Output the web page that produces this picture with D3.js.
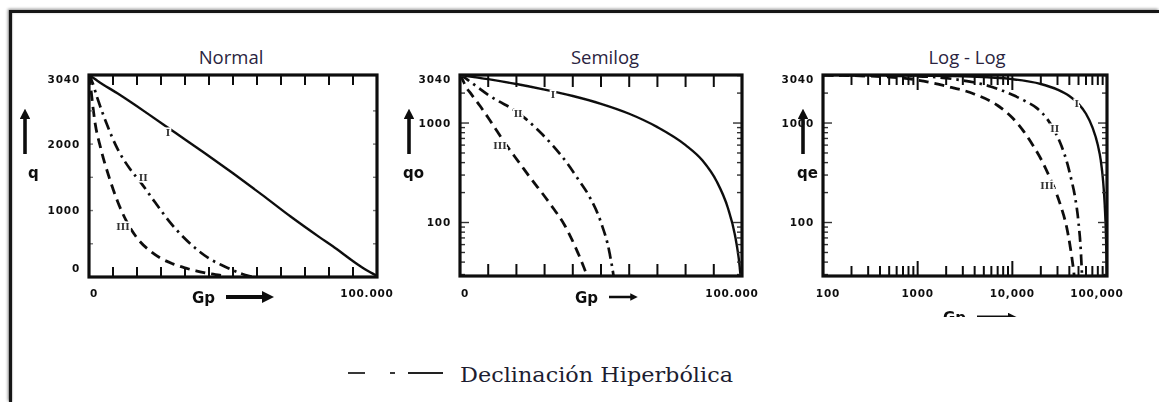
<!DOCTYPE html>
<html>
<head>
<meta charset="utf-8">
<script src="https://cdn.jsdelivr.net/npm/d3@7"></script>
<style>
  body { margin: 0; background: #fff; }
  svg { display: block; }
</style>
</head>
<body>
<div id="chart"></div>
<script>
// panel titles
var titles = ["Normal", "Semilog", "Log - Log"];

// curve I (solid), q vs Gp
var gpI = [0, 100, 1000, 3000, 10000, 20000, 30000, 40000, 50000, 60000, 70000, 80000, 86000, 91000, 95000, 97500, 99000, 100000];
var qI  = [3040, 3037, 3010, 2950, 2760, 2470, 2170, 1870, 1560, 1240, 910, 600, 420, 260, 140, 75, 40, 20];

// curve II (dash-dot)
var gpII = [0, 100, 1000, 3000, 6000, 10000, 14000, 18000, 23000, 28000, 33000, 38000, 42000, 46000, 50000, 53000, 55000, 56500];
var qII  = [3040, 3035, 2950, 2680, 2320, 1920, 1640, 1420, 1120, 830, 590, 395, 270, 180, 100, 50, 22, 8];

// curve III (dashed)
var gpIII = [0, 100, 500, 1000, 2000, 4000, 7000, 10000, 13000, 17000, 21000, 25000, 29000, 33000, 37000, 41000, 44000, 47000];
var qIII  = [3040, 3030, 2900, 2700, 2350, 1950, 1500, 1130, 840, 570, 400, 280, 200, 140, 95, 56, 35, 20];

var curveNames = ["I", "II", "III"];

// tick labels
var linYTicks  = [0, 1000, 2000, 3040];
var linYLabels = ["0", "1000", "2000", "3040"];
var logYTicks  = [100, 1000, 3040];
var logYLabels = ["100", "1000", "3040"];
var linXTicks  = [0, 100000];
var linXLabels = ["0", "100.000"];
var logXTicks  = [100, 1000, 10000, 100000];
var logXLabels = ["100", "1000", "10,000", "100,000"];

// where the I / II / III marks sit on each panel (Gp, q)
var markGpNormal  = [27400, 18800, 11800];
var markQNormal   = [2170, 1490, 750];
var markGpSemilog = [33000, 20600, 14200];
var markQSemilog  = [1950, 1230, 590];
var markGpLogLog  = [47900, 28000, 23200];
var markQLogLog   = [1550, 870, 234];

var legendText = "Declinación Hiperbólica";

(function() {
	var WIDTH = 1159, HEIGHT = 402;
	var INK = "#111";

	var svg = d3.select("#chart").append("svg")
		.attr("width", WIDTH)
		.attr("height", HEIGHT);

	var defs = svg.append("defs");

	// soft edge, the panels are scans
	defs.append("filter").attr("id", "scan")
		.attr("x", "-5%").attr("y", "-5%").attr("width", "110%").attr("height", "110%")
		.append("feGaussianBlur").attr("stdDeviation", 0.55);

	var shadow = defs.append("filter").attr("id", "shadow")
		.attr("x", "-10%").attr("y", "-10%").attr("width", "120%").attr("height", "120%");
	shadow.append("feGaussianBlur").attr("in", "SourceAlpha").attr("stdDeviation", 1.6).attr("result", "b");
	shadow.append("feOffset").attr("in", "b").attr("dx", -1.5).attr("dy", -1.5).attr("result", "o");
	shadow.append("feComponentTransfer").attr("in", "o").attr("result", "s")
		.append("feFuncA").attr("type", "linear").attr("slope", 0.45);
	var merge = shadow.append("feMerge");
	merge.append("feMergeNode").attr("in", "s");
	merge.append("feMergeNode").attr("in", "SourceGraphic");

	defs.append("marker").attr("id", "arrowHead")
		.attr("viewBox", "0 0 10 10").attr("refX", 5).attr("refY", 5)
		.attr("markerWidth", 3).attr("markerHeight", 3)
		.attr("orient", "auto")
		.append("path").attr("d", "M0,0L10,5L0,10Z").attr("fill", INK);

	// outer frame (top and left only, the rest is cut off)
	svg.append("path")
		.attr("d", "M10.5," + HEIGHT + "V11.5H" + WIDTH)
		.attr("fill", "none")
		.attr("stroke", "#151515")
		.attr("stroke-width", 3.2)
		.attr("filter", "url(#shadow)");

	function zipPts(gp, q) {
		return gp.map(function(g, i) { return [g, q[i]]; });
	}

	var series = [
		{ pts: zipPts(gpI, qI),     dash: null,            width: 2.4 },
		{ pts: zipPts(gpII, qII),   dash: "11,5,2.5,5",    width: 2.7 },
		{ pts: zipPts(gpIII, qIII), dash: "10,6",          width: 2.8 }
	];

	function logMinor(lo, hi) {
		var out = [];
		for (var e = Math.floor(Math.log10(lo)); e <= Math.ceil(Math.log10(hi)); e++) {
			for (var m = 1; m <= 9; m++) {
				var v = m * Math.pow(10, e);
				if (v > lo && v < hi) out.push(v);
			}
		}
		return out;
	}

	function isDecade(v) {
		var l = Math.log10(v);
		return Math.abs(l - Math.round(l)) < 1e-9;
	}

	var panels = [
		{
			title: titles[0], titleX: 231,
			x: d3.scaleLinear().domain([0, 100000]).range([89, 377]),
			y: d3.scaleLinear().domain([0, 3040]).range([277, 75]),
			xTicks: d3.range(1, 12).map(function(i) { return i * 100000 / 12; }),
			xTickLen: function() { return 10; },
			yTicks: [500, 1000, 1500, 2000, 2500],
			yTickLen: function() { return 4; }, yTickColor: "#777",
			xLabelVals: linXTicks, xLabels: linXLabels,
			yLabelVals: linYTicks, yLabels: linYLabels,
			markGp: markGpNormal, markQ: markQNormal,
			yName: "q", yNameX: 28, yArrowX: 25,
			xNameX: 192, xArrowEnd: 274, arrowW: 4, clipBottom: null
		},
		{
			title: titles[1], titleX: 605,
			x: d3.scaleLinear().domain([0, 100000]).range([460, 742]),
			y: d3.scaleLog().domain([29, 3040]).range([276, 75]),
			xTicks: d3.range(1, 10).map(function(i) { return i * 10000; }),
			xTickLen: function() { return 12; },
			yTicks: logMinor(29, 3040),
			yTickLen: function(v) { return isDecade(v) ? 9 : 5; }, yTickColor: "#333",
			xLabelVals: linXTicks, xLabels: linXLabels,
			yLabelVals: logYTicks, yLabels: logYLabels,
			markGp: markGpSemilog, markQ: markQSemilog,
			yName: "qo", yNameX: 403, yArrowX: 409,
			xNameX: 575, xArrowEnd: 640, arrowW: 2.5, clipBottom: null
		},
		{
			title: titles[2], titleX: 967,
			x: d3.scaleLog().domain([100, 100000]).range([823, 1107]),
			y: d3.scaleLog().domain([29, 3040]).range([276, 75]),
			xTicks: logMinor(100, 100000),
			xTickLen: function(v) { return isDecade(v) ? 15 : 10; },
			yTicks: logMinor(29, 3040),
			yTickLen: function(v) { return isDecade(v) ? 9 : 5; }, yTickColor: "#333",
			xLabelVals: logXTicks, xLabels: logXLabels,
			yLabelVals: logYTicks, yLabels: logYLabels,
			markGp: markGpLogLog, markQ: markQLogLog,
			yName: "qe", yNameX: 797, yArrowX: 803,
			xNameX: 943, xArrowEnd: 1018, arrowW: 3, clipBottom: 317
		}
	];

	function drawPanel(p, idx) {
		var x0 = p.x.range()[0], x1 = p.x.range()[1];
		var yb = p.y.range()[0], yt = p.y.range()[1];

		// title is typed text, not part of the scan
		svg.append("text")
			.attr("x", p.titleX).attr("y", 64)
			.attr("text-anchor", "middle")
			.style("font-family", "'Open Sans', sans-serif")
			.style("font-size", "18.5px")
			.style("fill", "#2a2440")
			.text(p.title);

		var g = svg.append("g").attr("filter", "url(#scan)");

		var clipId = "plot" + idx;
		defs.append("clipPath").attr("id", clipId)
			.append("rect").attr("x", x0).attr("y", yt).attr("width", x1 - x0).attr("height", yb - yt);

		// curves
		var line = d3.line()
			.x(function(d) { return p.x(d[0]); })
			.y(function(d) { return p.y(d[1]); })
			.curve(d3.curveMonotoneX);

		var xd = p.x.domain(), yd = p.y.domain();
		var isLogX = xd[0] > 0;
		var curves = g.append("g").attr("clip-path", "url(#" + clipId + ")");
		series.forEach(function(s) {
			var pts = s.pts.filter(function(d) { return !isLogX || d[0] >= xd[0]; });
			if (yd[0] > 0) pts = pts.map(function(d) { return [d[0], Math.max(d[1], 1)]; });
			curves.append("path")
				.attr("d", line(pts))
				.attr("fill", "none")
				.attr("stroke", INK)
				.attr("stroke-width", s.width)
				.attr("stroke-dasharray", s.dash)
				.attr("stroke-linecap", "butt");
		});

		// roman marks on the curves
		g.selectAll(null).data(curveNames).enter().append("text")
			.attr("x", function(d, i) { return p.x(p.markGp[i]); })
			.attr("y", function(d, i) { return p.y(p.markQ[i]); })
			.attr("dy", "0.35em")
			.attr("text-anchor", "middle")
			.style("font-family", "'DejaVu Serif', serif")
			.style("font-weight", "bold")
			.style("font-size", "9.5px")
			.style("fill", "#333")
			.style("stroke", "#fff").style("stroke-width", 3)
			.style("paint-order", "stroke")
			.text(function(d) { return d; });

		// inward ticks, top and bottom
		var tk = g.append("g").attr("stroke", INK).attr("stroke-width", 2);
		p.xTicks.forEach(function(v) {
			var xx = p.x(v), len = p.xTickLen(v);
			tk.append("line").attr("x1", xx).attr("x2", xx).attr("y1", yt).attr("y2", yt + len);
			tk.append("line").attr("x1", xx).attr("x2", xx).attr("y1", yb).attr("y2", yb - len);
		});

		// inward ticks, left and right
		var tk2 = g.append("g").attr("stroke", p.yTickColor).attr("stroke-width", 1.4);
		p.yTicks.forEach(function(v) {
			var yy = p.y(v), len = p.yTickLen(v);
			tk2.append("line").attr("x1", x0).attr("x2", x0 + len).attr("y1", yy).attr("y2", yy);
			tk2.append("line").attr("x1", x1).attr("x2", x1 - len).attr("y1", yy).attr("y2", yy);
		});

		// frame
		g.append("rect")
			.attr("x", x0).attr("y", yt)
			.attr("width", x1 - x0).attr("height", yb - yt)
			.attr("fill", "none")
			.attr("stroke", INK)
			.attr("stroke-width", 3.2);

		// tick labels
		var labelStyle = function(sel) {
			sel.style("font-family", "'DejaVu Sans', sans-serif")
				.style("font-weight", "bold")
				.style("font-size", "10.5px")
				.style("letter-spacing", "0.8px")
				.style("fill", INK);
		};

		g.selectAll(null).data(p.yLabelVals).enter().append("text")
			.attr("x", x0 - 9)
			.attr("y", function(v) { return Math.max(yt + 4, Math.min(yb - 9, p.y(v))); })
			.attr("dy", "0.35em")
			.attr("text-anchor", "end")
			.call(labelStyle)
			.text(function(v, i) { return p.yLabels[i]; });

		g.selectAll(null).data(p.xLabelVals).enter().append("text")
			.attr("x", function(v) { return Math.max(x0 + 5, Math.min(x1 - 10, p.x(v))); })
			.attr("y", 297)
			.attr("text-anchor", "middle")
			.call(labelStyle)
			.text(function(v, i) { return p.xLabels[i]; });

		// q with arrow up
		g.append("line")
			.attr("x1", p.yArrowX).attr("x2", p.yArrowX)
			.attr("y1", 154).attr("y2", 114)
			.attr("stroke", INK).attr("stroke-width", 3.6)
			.attr("marker-end", "url(#arrowHead)");
		g.append("text")
			.attr("x", p.yNameX).attr("y", 178)
			.style("font-family", "'DejaVu Sans', sans-serif")
			.style("font-weight", "bold")
			.style("font-size", "15px")
			.style("fill", INK)
			.text(p.yName);

		// Gp with arrow right
		var xName = g.append("g");
		if (p.clipBottom) {
			defs.append("clipPath").attr("id", "cut" + idx)
				.append("rect").attr("x", 0).attr("y", 0).attr("width", WIDTH).attr("height", p.clipBottom);
			xName.attr("clip-path", "url(#cut" + idx + ")");
		}
		var xNameY = p.clipBottom ? 323 : 303;
		xName.append("text")
			.attr("x", p.xNameX).attr("y", xNameY)
			.style("font-family", "'DejaVu Sans', sans-serif")
			.style("font-weight", "bold")
			.style("font-size", "15px")
			.style("fill", INK)
			.text("Gp");
		xName.append("line")
			.attr("x1", p.xNameX + 34).attr("x2", p.xArrowEnd - 6)
			.attr("y1", xNameY - 6).attr("y2", xNameY - 6)
			.attr("stroke", INK).attr("stroke-width", p.arrowW)
			.attr("marker-end", "url(#arrowHead)");
	}

	panels.forEach(drawPanel);

	// legend: dash - dot - dash sample and text
	var lg = svg.append("g");
	var ly = 373;
	[[348, 365], [390, 395], [408, 443]].forEach(function(s) {
		lg.append("line")
			.attr("x1", s[0]).attr("x2", s[1])
			.attr("y1", ly).attr("y2", ly)
			.attr("stroke", "#222").attr("stroke-width", 1.8);
	});
	lg.append("text")
		.attr("x", 460).attr("y", 382)
		.attr("textLength", 273)
		.attr("lengthAdjust", "spacingAndGlyphs")
		.style("font-family", "'DejaVu Serif', serif")
		.style("font-size", "20px")
		.style("fill", "#1d1d30")
		.text(legendText);
}());
</script>
</body>
</html>
